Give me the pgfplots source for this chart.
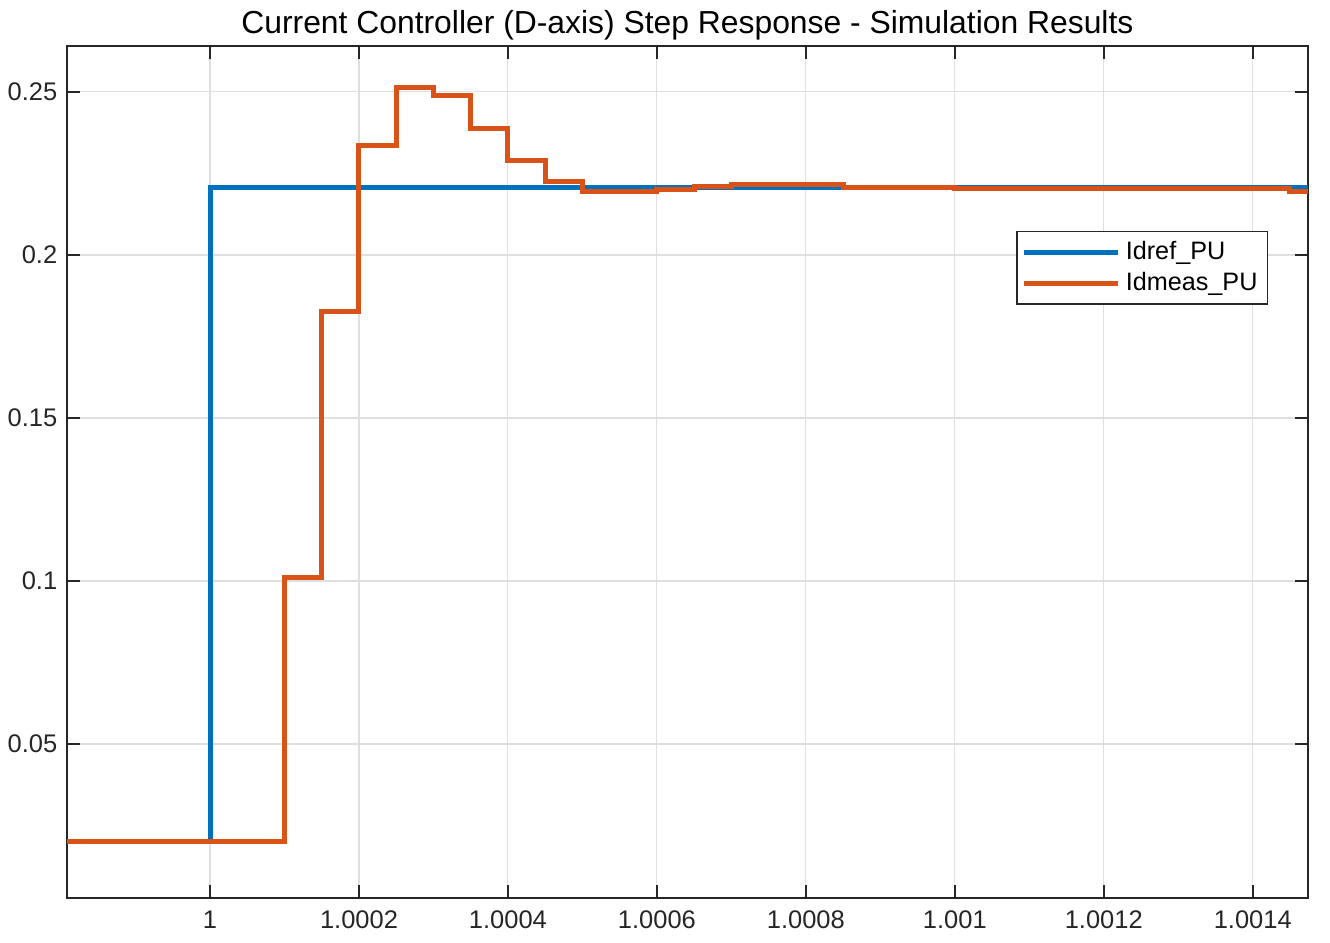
\documentclass[border=0pt]{standalone}
\usepackage{pgfplots}
\pgfplotsset{compat=1.18}
\usepackage{fontspec}
\setmainfont{Liberation Sans}
\definecolor{mblue}{HTML}{0072BD}
\definecolor{morange}{HTML}{D95319}
\definecolor{axcol}{HTML}{262626}
\definecolor{gridcol}{HTML}{DFDFDF}
\begin{document}
\begin{tikzpicture}
\begin{axis}[
  name=ax,
  width=448pt, height=307.6pt,
  scale only axis,
  xmin=-1.92, xmax=14.74,
  ymin=0.0028, ymax=0.2641,
  xtick={0,2,4,6,8,10,12,14},
  xticklabels={1,1.0002,1.0004,1.0006,1.0008,1.001,1.0012,1.0014},
  ytick={0.05,0.1,0.15,0.2,0.25},
  yticklabels={0.05,0.1,0.15,0.2,0.25},
  grid=major,
  major grid style={gridcol, line width=0.4pt},
  axis line style={axcol, line width=0.7pt},
  tick style={axcol, line width=0.6pt},
  major tick length=4.6pt,
  tick align=inside,
  xtick pos=both, ytick pos=both,
  tick label style={font=\fontsize{9.2}{11}\selectfont, text=axcol},
  xticklabel style={yshift=-1pt},
  title={Current Controller (D-axis) Step Response - Simulation Results},
  title style={font=\fontsize{11.5}{13}\selectfont, text=black, at={(0.5,1)}, anchor=center, yshift=1.5pt},
  legend style={at={(0.9678,0.783)}, anchor=north east, draw=axcol, line width=0.5pt,
    font=\fontsize{9.1}{10.5}\selectfont, inner sep=1.5pt, row sep=-1pt},
  legend cell align=left,
  legend image code/.code={\draw[#1, line width=1.8pt] (0pt,0pt) -- (34pt,0pt);},
]
\addplot[const plot, mblue, line width=1.8pt] coordinates {
(-1.92,0.0200) (0,0.2206) (14.74,0.2206)
};
\addlegendentry{Idref\_PU}
\addplot[const plot, morange, line width=1.8pt] coordinates {
(-1.92,0.0200) (1.0,0.1010) (1.5,0.1828) (2.0,0.2337) (2.5,0.2515) (3.0,0.2488)
(3.5,0.2387) (4.0,0.2291) (4.5,0.2224) (5.0,0.2196) (6.0,0.2201) (6.5,0.2209)
(7.0,0.2215) (8.5,0.2207) (10.0,0.2203) (14.5,0.2196) (14.74,0.2196)
};
\addlegendentry{Idmeas\_PU}
\end{axis}
\pgfresetboundingbox
\path ([shift={(-24.2pt,-16.2pt)}]ax.south west) rectangle ([shift={(8pt,16.6pt)}]ax.north east);
\end{tikzpicture}
\end{document}
